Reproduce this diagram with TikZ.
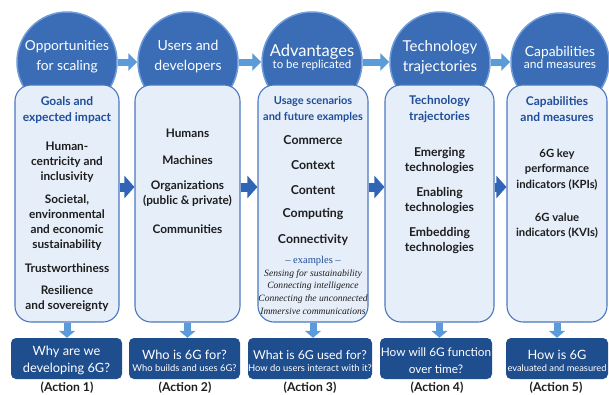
\documentclass[tikz,border=0pt]{standalone}
\usepackage{fontspec}
\setmainfont{Lato}
\newfontfamily\exfont[Ligatures=TeX]{Liberation Serif}
\usetikzlibrary{arrows.meta}
\definecolor{circfill}{HTML}{3A6DB5}
\definecolor{circedge}{HTML}{6E9BDA}
\definecolor{boxfill}{HTML}{E6EEF9}
\definecolor{boxedge}{HTML}{4A78BE}
\definecolor{qfill}{HTML}{1F4E8E}
\definecolor{headblue}{HTML}{1F4E9A}
\definecolor{bodytext}{HTML}{1E1E1E}
\definecolor{lightarrow}{HTML}{5B9BD9}
\definecolor{darkarrow}{HTML}{2F64B6}
\newcommand{\fs}[2]{\fontsize{#1}{#2}\selectfont}
\begin{document}
\begin{tikzpicture}[x=1pt,y=-1pt,
  stage/.style={circle, fill=circfill, draw=circedge, line width=1.5pt,
    minimum size=100pt, inner sep=0pt},
  stagetext/.style={text=white, align=center, inner sep=0pt},
  panel/.style={draw=boxedge, fill=boxfill, line width=1.1pt,
    rounded corners=16pt, minimum height=237pt, inner sep=0pt},
  head/.style={text=headblue, font=\bfseries\fs{12}{16}, align=center, inner sep=0pt},
  item/.style={text=bodytext, font=\bfseries\fs{11.8}{15}, align=center, inner sep=0pt},
  question/.style={fill=qfill, rounded corners=5pt, minimum height=41pt, inner sep=0pt},
  qtext/.style={text=white, align=center, inner sep=0pt},
  action/.style={text=bodytext, font=\bfseries\fs{12.2}{14}, inner sep=0pt},
  stepflow/.style={lightarrow, line width=7pt, -{Triangle[length=9pt,width=17pt]}},
  colflow/.style={darkarrow, line width=9pt, -{Triangle[length=10pt,width=22pt]}},
  downflow/.style={lightarrow, line width=7pt, -{Triangle[length=7pt,width=16pt]}}
]
\useasboundingbox (0,0) rectangle (609,394);

% stage circles
\node[stage] (c1) at (67,62) {};
\node[stage] (c2) at (188,62) {};
\node[stage] (c3) at (312,62) {};
\node[stage] (c4) at (440,62) {};
\node[stage, minimum size=98pt] (c5) at (560,62) {};

\node[stagetext, font=\fs{13.7}{20}] (c1t) at (67,57) {Opportunities\\for scaling};
\node[stagetext, font=\fs{14}{20}] (c2t) at (188,57) {Users and\\developers};
\node[stagetext] (c3t) at (312,57) {{\fs{16.5}{19}Advantages}\\{\fs{11.5}{19}to be replicated}};
\node[stagetext, font=\fs{15}{20}] (c4t) at (440,57) {Technology\\trajectories};
\node[stagetext] (c5t) at (560,57) {{\fs{13.8}{19}Capabilities}\\{\fs{12}{19}and measures}};

% arrows between stages
\draw[stepflow] (c1.east) -- (c2.west);
\draw[stepflow] (c2.east) -- (c3.west);
\draw[stepflow] (c3.east) -- (c4.west);
\draw[stepflow] (c4.east) -- (c5.west);

% content panels
\node[panel, minimum width=104pt] (b1) at (67,203.5) {};
\node[panel, minimum width=105pt] (b2) at (187.5,203.5) {};
\node[panel, minimum width=110pt] (b3) at (313,203.5) {};
\node[panel, minimum width=109pt] (b4) at (439.5,203.5) {};
\node[panel, minimum width=100pt] (b5) at (557,203.5) {};

% panel 1
\node[head] (b1h) at (67,110) {Goals and\\expected impact};
\node[item] (b1a) at (67,162) {Human-\\centricity and\\inclusivity};
\node[item] (b1b) at (67,222.5) {Societal,\\environmental\\and economic\\sustainability};
\node[item] (b1c) at (67,268) {Trustworthiness};
\node[item] (b1d) at (67,298.5) {Resilience\\and sovereignty};

% panel 2
\node[item] (b2a) at (187.5,133) {Humans};
\node[item] (b2b) at (187.5,160) {Machines};
\node[item] (b2c) at (187.5,194) {Organizations\\(public \& private)};
\node[item] (b2d) at (187.5,229) {Communities};

% panel 3
\node[head, font=\bfseries\fs{11}{16}] (b3h) at (313,109) {Usage scenarios\\and future examples};
\node[item, font=\bfseries\fs{12.3}{15}] (b3a) at (313,140) {Commerce};
\node[item, font=\bfseries\fs{12.3}{15}] (b3b) at (313,165) {Context};
\node[item, font=\bfseries\fs{12.3}{15}] (b3c) at (313,190) {Content};
\node[item, font=\bfseries\fs{12.3}{15}] (b3d) at (313,214) {Computing};
\node[item, font=\bfseries\fs{12.3}{15}] (b3e) at (313,240) {Connectivity};
\node[text=headblue, font=\exfont\fs{10.5}{12}, inner sep=0pt] (b3x) at (313,261) {\textendash{} examples \textendash};
\node[text=bodytext, font=\exfont\itshape\fs{9.6}{12.7}, align=center, inner sep=0pt] (b3y) at (313,292)
  {Sensing for sustainability\\Connecting intelligence\\Connecting the unconnected\\Immersive communications};

% panel 4
\node[head] (b4h) at (439.5,109) {Technology\\trajectories};
\node[item, font=\bfseries\fs{12.2}{15}] (b4a) at (439.5,160.5) {Emerging\\technologies};
\node[item, font=\bfseries\fs{12.2}{15}] (b4b) at (439.5,200.5) {Enabling\\technologies};
\node[item, font=\bfseries\fs{12.2}{15}] (b4c) at (439.5,240.5) {Embedding\\technologies};

% panel 5
\node[head] (b5h) at (557,109) {Capabilities\\and measures};
\node[item, font=\bfseries\fs{11.3}{15.5}] (b5a) at (557,169.5) {6G key\\performance\\indicators (KPIs)};
\node[item, font=\bfseries\fs{11.3}{15}] (b5b) at (557,225.5) {6G value\\indicators (KVIs)};

% arrows between panels
\draw[colflow] ([yshift=16.5pt]b1.east) -- ([yshift=16.5pt]b2.west);
\draw[colflow] ([yshift=16.5pt]b2.east) -- ([yshift=16.5pt]b3.west);
\draw[colflow] ([yshift=16.5pt]b3.east) -- ([yshift=16.5pt]b4.west);
\draw[colflow] ([yshift=16.5pt]b4.east) -- ([yshift=16.5pt]b5.west);

% guiding questions
\node[question, minimum width=111pt] (q1) at (66.5,358.5) {};
\node[question, minimum width=111pt] (q2) at (184.5,358.5) {};
\node[question, minimum width=124pt] (q3) at (310,358.5) {};
\node[question, minimum width=112pt] (q4) at (436,358.5) {};
\node[question, minimum width=102pt] (q5) at (557,358.5) {};

\node[qtext, font=\fs{12.8}{17}] (q1t) at (66.5,360.5) {Why are we\\developing 6G?};
\node[qtext] (q2t) at (184.5,360.5) {{\fs{12.8}{17}Who is 6G for?}\\{\fs{9.4}{17}Who builds and uses 6G?}};
\node[qtext] (q3t) at (310,360.5) {{\fs{12.3}{17}What is 6G used for?}\\{\fs{9.4}{17}How do users interact with it?}};
\node[qtext, font=\fs{11.8}{17}] (q4t) at (436,360.5) {How will 6G function\\over time?};
\node[qtext] (q5t) at (557,360.5) {{\fs{12.8}{17}How is 6G}\\{\fs{9.3}{17}evaluated and measured}};

% arrows from panels to questions
\draw[downflow] (b1.south) -- (b1.south |- q1.north);
\draw[downflow] (b2.south) -- (b2.south |- q2.north);
\draw[downflow] (b3.south) -- (b3.south |- q3.north);
\draw[downflow] (b4.south) -- (b4.south |- q4.north);
\draw[downflow] (b5.south) -- (b5.south |- q5.north);

% action labels
\node[action] (a1) at (67,387.5) {(Action 1)};
\node[action] (a2) at (185,387.5) {(Action 2)};
\node[action] (a3) at (310,387.5) {(Action 3)};
\node[action] (a4) at (437,387.5) {(Action 4)};
\node[action] (a5) at (556,387.5) {(Action 5)};
\end{tikzpicture}
\end{document}
